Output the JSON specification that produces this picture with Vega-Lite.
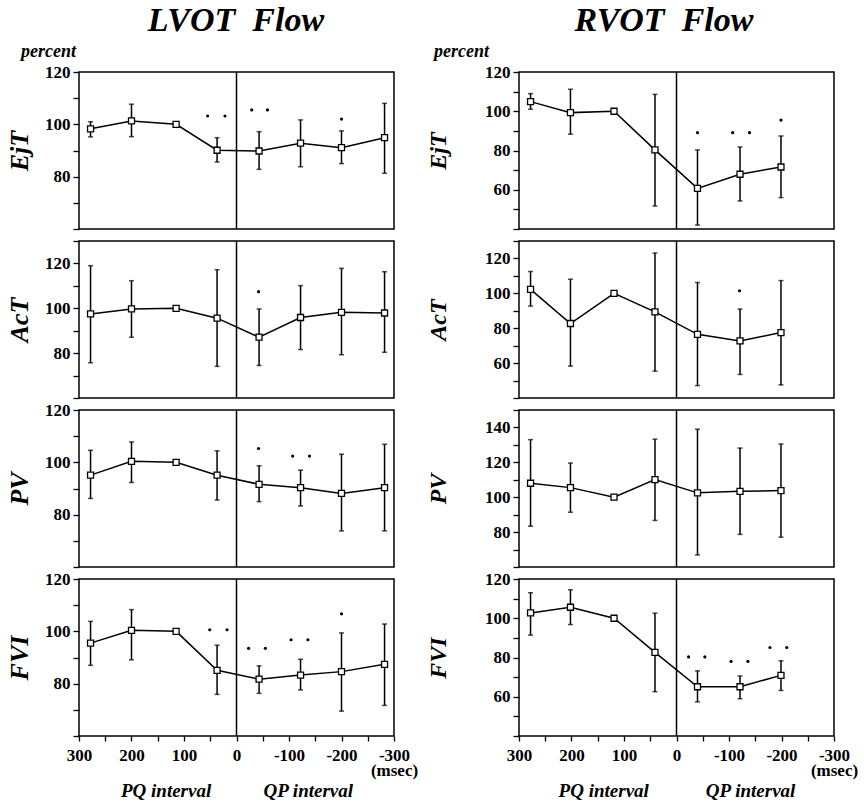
{
  "$schema": "https://vega.github.io/schema/vega-lite/v6.json",
  "padding": {"left": 5, "top": 4, "right": 5, "bottom": 5},
  "spacing": 6,
  "config": {
    "view": {"stroke": "black", "strokeWidth": 1.5},
    "axis": {"domain": false, "grid": false, "tickColor": "black", "tickSize": 6, "tickWidth": 1.3, "tickCount": 30, "labelFont": "Liberation Serif", "labelFontWeight": "bold", "labelFontSize": 17, "labelColor": "black", "labelPadding": 3, "labelOverlap": false, "titleFont": "Liberation Serif", "titleFontStyle": "italic", "titleFontWeight": "bold", "titleColor": "black"},
    "axisY": {"titleFontSize": 26, "titlePadding": 12, "labelOverlap": false},
    "axisX": {"titleFontSize": 19, "titlePadding": 3, "labelOverlap": false, "labelFlush": false, "labelPadding": 6, "labelLineHeight": 15, "tickSize": 5},
    "title": {"font": "Liberation Serif", "fontStyle": "italic", "fontWeight": "bold", "color": "black"}
  },
  "datasets": {
    "main": [
      {"c":"L","p":"EjT","x":278,"y":98.3,"lo":95.2,"hi":101},
      {"c":"L","p":"EjT","x":200,"y":101.3,"lo":95.3,"hi":107.7},
      {"c":"L","p":"EjT","x":115,"y":100,"lo":null,"hi":null},
      {"c":"L","p":"EjT","x":37,"y":90.1,"lo":85.6,"hi":94.9},
      {"c":"L","p":"EjT","x":-43,"y":89.8,"lo":82.8,"hi":97.2},
      {"c":"L","p":"EjT","x":-122,"y":92.8,"lo":83.8,"hi":101.7},
      {"c":"L","p":"EjT","x":-200,"y":91.1,"lo":85,"hi":97.5},
      {"c":"L","p":"EjT","x":-282,"y":94.9,"lo":81.3,"hi":108},
      {"c":"L","p":"AcT","x":278,"y":97.5,"lo":75.7,"hi":119},
      {"c":"L","p":"AcT","x":200,"y":99.7,"lo":87.1,"hi":112.3},
      {"c":"L","p":"AcT","x":115,"y":100,"lo":null,"hi":null},
      {"c":"L","p":"AcT","x":37,"y":95.6,"lo":74.1,"hi":117.2},
      {"c":"L","p":"AcT","x":-43,"y":87.1,"lo":74.5,"hi":99.7},
      {"c":"L","p":"AcT","x":-122,"y":95.9,"lo":81.6,"hi":110.1},
      {"c":"L","p":"AcT","x":-200,"y":98.2,"lo":79.3,"hi":117.8},
      {"c":"L","p":"AcT","x":-282,"y":97.9,"lo":80.4,"hi":116.3},
      {"c":"L","p":"PV","x":278,"y":95.1,"lo":86.2,"hi":104.6},
      {"c":"L","p":"PV","x":200,"y":100.4,"lo":92.3,"hi":107.8},
      {"c":"L","p":"PV","x":115,"y":100,"lo":null,"hi":null},
      {"c":"L","p":"PV","x":37,"y":95.1,"lo":85.6,"hi":104.4},
      {"c":"L","p":"PV","x":-43,"y":91.6,"lo":85,"hi":98.7},
      {"c":"L","p":"PV","x":-122,"y":90.3,"lo":83.3,"hi":97},
      {"c":"L","p":"PV","x":-200,"y":88.1,"lo":73.8,"hi":103.1},
      {"c":"L","p":"PV","x":-282,"y":90.3,"lo":73.8,"hi":106.9},
      {"c":"L","p":"FVI","x":278,"y":95.5,"lo":87,"hi":103.8},
      {"c":"L","p":"FVI","x":200,"y":100.4,"lo":89.1,"hi":108.3},
      {"c":"L","p":"FVI","x":115,"y":100,"lo":null,"hi":null},
      {"c":"L","p":"FVI","x":37,"y":85.1,"lo":75.9,"hi":94.7},
      {"c":"L","p":"FVI","x":-43,"y":81.7,"lo":76.3,"hi":86.8},
      {"c":"L","p":"FVI","x":-122,"y":83.3,"lo":77.6,"hi":89.3},
      {"c":"L","p":"FVI","x":-200,"y":84.6,"lo":69.5,"hi":99.4},
      {"c":"L","p":"FVI","x":-282,"y":87.4,"lo":71.7,"hi":102.8},
      {"c":"R","p":"EjT","x":278,"y":104.9,"lo":101,"hi":109},
      {"c":"R","p":"EjT","x":202,"y":99.3,"lo":88.3,"hi":111.2},
      {"c":"R","p":"EjT","x":119,"y":100,"lo":null,"hi":null},
      {"c":"R","p":"EjT","x":41,"y":80.3,"lo":51.7,"hi":108.6},
      {"c":"R","p":"EjT","x":-40,"y":60.7,"lo":42,"hi":80.3},
      {"c":"R","p":"EjT","x":-121,"y":67.9,"lo":54.3,"hi":81.8},
      {"c":"R","p":"EjT","x":-199,"y":71.6,"lo":56,"hi":87.4},
      {"c":"R","p":"AcT","x":278,"y":102.3,"lo":92.7,"hi":112.5},
      {"c":"R","p":"AcT","x":202,"y":82.7,"lo":58.3,"hi":108.1},
      {"c":"R","p":"AcT","x":119,"y":100,"lo":null,"hi":null},
      {"c":"R","p":"AcT","x":41,"y":89.4,"lo":55.4,"hi":123.1},
      {"c":"R","p":"AcT","x":-40,"y":76.5,"lo":47.1,"hi":106.2},
      {"c":"R","p":"AcT","x":-121,"y":72.7,"lo":53.5,"hi":91},
      {"c":"R","p":"AcT","x":-199,"y":77.5,"lo":47.5,"hi":107.3},
      {"c":"R","p":"PV","x":278,"y":108,"lo":83.4,"hi":133},
      {"c":"R","p":"PV","x":202,"y":105.5,"lo":91.4,"hi":119.6},
      {"c":"R","p":"PV","x":119,"y":100,"lo":null,"hi":null},
      {"c":"R","p":"PV","x":41,"y":110.1,"lo":86.7,"hi":133.3},
      {"c":"R","p":"PV","x":-40,"y":102.5,"lo":66.9,"hi":139},
      {"c":"R","p":"PV","x":-121,"y":103.4,"lo":78.7,"hi":128.2},
      {"c":"R","p":"PV","x":-199,"y":103.8,"lo":77.1,"hi":130.5},
      {"c":"R","p":"FVI","x":278,"y":102.7,"lo":91.4,"hi":113},
      {"c":"R","p":"FVI","x":202,"y":105.6,"lo":96.8,"hi":114.5},
      {"c":"R","p":"FVI","x":119,"y":100,"lo":null,"hi":null},
      {"c":"R","p":"FVI","x":41,"y":82.6,"lo":62.6,"hi":102.6},
      {"c":"R","p":"FVI","x":-40,"y":65.1,"lo":57.4,"hi":73.2},
      {"c":"R","p":"FVI","x":-121,"y":65.1,"lo":59,"hi":70.6},
      {"c":"R","p":"FVI","x":-199,"y":70.9,"lo":63.2,"hi":78.3}
    ],
    "stars": [
      {"c":"L","p":"EjT","x":55,"y":103.2},
      {"c":"L","p":"EjT","x":22,"y":103.2},
      {"c":"L","p":"EjT","x":-29,"y":105.5},
      {"c":"L","p":"EjT","x":-59,"y":105.5},
      {"c":"L","p":"EjT","x":-200,"y":102},
      {"c":"L","p":"AcT","x":-42,"y":107.4},
      {"c":"L","p":"PV","x":-42,"y":105.3},
      {"c":"L","p":"PV","x":-107,"y":102.4},
      {"c":"L","p":"PV","x":-139,"y":102.4},
      {"c":"L","p":"FVI","x":51,"y":100.6},
      {"c":"L","p":"FVI","x":18,"y":100.6},
      {"c":"L","p":"FVI","x":-23,"y":93.5},
      {"c":"L","p":"FVI","x":-55,"y":93.5},
      {"c":"L","p":"FVI","x":-104,"y":96.8},
      {"c":"L","p":"FVI","x":-136,"y":96.8},
      {"c":"L","p":"FVI","x":-200,"y":106.7},
      {"c":"R","p":"EjT","x":-40,"y":89.1},
      {"c":"R","p":"EjT","x":-107,"y":89.1},
      {"c":"R","p":"EjT","x":-139,"y":89.1},
      {"c":"R","p":"EjT","x":-199,"y":95.5},
      {"c":"R","p":"AcT","x":-120,"y":101.5},
      {"c":"R","p":"FVI","x":-23,"y":80.3},
      {"c":"R","p":"FVI","x":-54,"y":80.3},
      {"c":"R","p":"FVI","x":-104,"y":78},
      {"c":"R","p":"FVI","x":-136,"y":78},
      {"c":"R","p":"FVI","x":-178,"y":85.1},
      {"c":"R","p":"FVI","x":-210,"y":85.1}
    ]
  },
  "hconcat": [
    {
      "bounds": "flush",
      "spacing": 12,
      "title": {"text": "LVOT\u00a0\u00a0Flow", "fontSize": 34, "anchor": "middle", "frame": "group", "offset": 4, "dx": 157},
      "vconcat": [
        {
          "width": 315, "height": 157,
          "title": {"text": "percent", "fontSize": 18, "anchor": "start", "frame": "group", "dx": -58, "offset": 2},
          "layer": [
            {"data": {"name": "main"}, "transform": [{"filter": "datum.c=='L' && datum.p=='EjT'"}],
             "mark": {"type": "line", "color": "black", "strokeWidth": 1.5},
             "encoding": {
               "x": {"field": "x", "type": "quantitative", "scale": {"domain": [-300,300], "reverse": true, "nice": false, "zero": false}, "axis": null},
               "y": {"field": "y", "type": "quantitative", "title": "EjT", "scale": {"domain": [60,120], "nice": false, "zero": false},
                     "axis": {"title": "EjT", "tickCount": 30, "labelOverlap": false, "values": [60,70,80,90,100,110,120], "labelFontSize": {"condition": {"test": "datum.value % 20 != 0 || datum.value <= 60", "value": 0}, "value": 17}, "labelExpr": "datum.value % 20 == 0 && datum.value > 60 ? datum.label : ''"}}}},
            {"data": {"name": "main"}, "transform": [{"filter": "datum.c=='L' && datum.p=='EjT' && datum.lo != null"}],
             "mark": {"type": "errorbar", "ticks": true, "color": "black", "thickness": 1.5},
             "encoding": {
               "x": {"field": "x", "type": "quantitative", "scale": {"domain": [-300,300], "reverse": true, "nice": false, "zero": false}, "axis": null},
               "y": {"field": "lo", "type": "quantitative", "title": "EjT", "scale": {"domain": [60,120], "nice": false, "zero": false}},
               "y2": {"field": "hi"}}},
            {"data": {"name": "main"}, "transform": [{"filter": "datum.c=='L' && datum.p=='EjT'"}],
             "mark": {"type": "point", "shape": "square", "filled": true, "fill": "white", "stroke": "black", "strokeWidth": 1.3, "size": 36, "opacity": 1},
             "encoding": {
               "x": {"field": "x", "type": "quantitative", "scale": {"domain": [-300,300], "reverse": true, "nice": false, "zero": false}, "axis": null},
               "y": {"field": "y", "type": "quantitative", "title": "EjT", "scale": {"domain": [60,120], "nice": false, "zero": false}}}},
            {"data": {"name": "stars"}, "transform": [{"filter": "datum.c=='L' && datum.p=='EjT'"}],
             "mark": {"type": "circle", "color": "black", "size": 10, "opacity": 1},
             "encoding": {
               "x": {"field": "x", "type": "quantitative", "scale": {"domain": [-300,300], "reverse": true, "nice": false, "zero": false}, "axis": null},
               "y": {"field": "y", "type": "quantitative", "title": "EjT", "scale": {"domain": [60,120], "nice": false, "zero": false}}}},
            {"data": {"values": [{}]}, "mark": {"type": "rule", "color": "black", "strokeWidth": 1.5},
             "encoding": {"x": {"datum": 0, "type": "quantitative", "scale": {"domain": [-300,300], "reverse": true, "nice": false, "zero": false}, "axis": null}}}
          ]
        },
        {
          "width": 315, "height": 157,
          "layer": [
            {"data": {"name": "main"}, "transform": [{"filter": "datum.c=='L' && datum.p=='AcT'"}],
             "mark": {"type": "line", "color": "black", "strokeWidth": 1.5},
             "encoding": {
               "x": {"field": "x", "type": "quantitative", "scale": {"domain": [-300,300], "reverse": true, "nice": false, "zero": false}, "axis": null},
               "y": {"field": "y", "type": "quantitative", "title": "AcT", "scale": {"domain": [60,130], "nice": false, "zero": false},
                     "axis": {"title": "AcT", "tickCount": 30, "labelOverlap": false, "values": [60,70,80,90,100,110,120,130], "labelFontSize": {"condition": {"test": "datum.value % 20 != 0 || datum.value <= 60", "value": 0}, "value": 17}, "labelExpr": "datum.value % 20 == 0 && datum.value > 60 ? datum.label : ''"}}}},
            {"data": {"name": "main"}, "transform": [{"filter": "datum.c=='L' && datum.p=='AcT' && datum.lo != null"}],
             "mark": {"type": "errorbar", "ticks": true, "color": "black", "thickness": 1.5},
             "encoding": {
               "x": {"field": "x", "type": "quantitative", "scale": {"domain": [-300,300], "reverse": true, "nice": false, "zero": false}, "axis": null},
               "y": {"field": "lo", "type": "quantitative", "title": "AcT", "scale": {"domain": [60,130], "nice": false, "zero": false}},
               "y2": {"field": "hi"}}},
            {"data": {"name": "main"}, "transform": [{"filter": "datum.c=='L' && datum.p=='AcT'"}],
             "mark": {"type": "point", "shape": "square", "filled": true, "fill": "white", "stroke": "black", "strokeWidth": 1.3, "size": 36, "opacity": 1},
             "encoding": {
               "x": {"field": "x", "type": "quantitative", "scale": {"domain": [-300,300], "reverse": true, "nice": false, "zero": false}, "axis": null},
               "y": {"field": "y", "type": "quantitative", "title": "AcT", "scale": {"domain": [60,130], "nice": false, "zero": false}}}},
            {"data": {"name": "stars"}, "transform": [{"filter": "datum.c=='L' && datum.p=='AcT'"}],
             "mark": {"type": "circle", "color": "black", "size": 10, "opacity": 1},
             "encoding": {
               "x": {"field": "x", "type": "quantitative", "scale": {"domain": [-300,300], "reverse": true, "nice": false, "zero": false}, "axis": null},
               "y": {"field": "y", "type": "quantitative", "title": "AcT", "scale": {"domain": [60,130], "nice": false, "zero": false}}}},
            {"data": {"values": [{}]}, "mark": {"type": "rule", "color": "black", "strokeWidth": 1.5},
             "encoding": {"x": {"datum": 0, "type": "quantitative", "scale": {"domain": [-300,300], "reverse": true, "nice": false, "zero": false}, "axis": null}}}
          ]
        },
        {
          "width": 315, "height": 157,
          "layer": [
            {"data": {"name": "main"}, "transform": [{"filter": "datum.c=='L' && datum.p=='PV'"}],
             "mark": {"type": "line", "color": "black", "strokeWidth": 1.5},
             "encoding": {
               "x": {"field": "x", "type": "quantitative", "scale": {"domain": [-300,300], "reverse": true, "nice": false, "zero": false}, "axis": null},
               "y": {"field": "y", "type": "quantitative", "title": "PV", "scale": {"domain": [60,120], "nice": false, "zero": false},
                     "axis": {"title": "PV", "tickCount": 30, "labelOverlap": false, "values": [60,70,80,90,100,110,120], "labelFontSize": {"condition": {"test": "datum.value % 20 != 0 || datum.value <= 60", "value": 0}, "value": 17}, "labelExpr": "datum.value % 20 == 0 && datum.value > 60 ? datum.label : ''"}}}},
            {"data": {"name": "main"}, "transform": [{"filter": "datum.c=='L' && datum.p=='PV' && datum.lo != null"}],
             "mark": {"type": "errorbar", "ticks": true, "color": "black", "thickness": 1.5},
             "encoding": {
               "x": {"field": "x", "type": "quantitative", "scale": {"domain": [-300,300], "reverse": true, "nice": false, "zero": false}, "axis": null},
               "y": {"field": "lo", "type": "quantitative", "title": "PV", "scale": {"domain": [60,120], "nice": false, "zero": false}},
               "y2": {"field": "hi"}}},
            {"data": {"name": "main"}, "transform": [{"filter": "datum.c=='L' && datum.p=='PV'"}],
             "mark": {"type": "point", "shape": "square", "filled": true, "fill": "white", "stroke": "black", "strokeWidth": 1.3, "size": 36, "opacity": 1},
             "encoding": {
               "x": {"field": "x", "type": "quantitative", "scale": {"domain": [-300,300], "reverse": true, "nice": false, "zero": false}, "axis": null},
               "y": {"field": "y", "type": "quantitative", "title": "PV", "scale": {"domain": [60,120], "nice": false, "zero": false}}}},
            {"data": {"name": "stars"}, "transform": [{"filter": "datum.c=='L' && datum.p=='PV'"}],
             "mark": {"type": "circle", "color": "black", "size": 10, "opacity": 1},
             "encoding": {
               "x": {"field": "x", "type": "quantitative", "scale": {"domain": [-300,300], "reverse": true, "nice": false, "zero": false}, "axis": null},
               "y": {"field": "y", "type": "quantitative", "title": "PV", "scale": {"domain": [60,120], "nice": false, "zero": false}}}},
            {"data": {"values": [{}]}, "mark": {"type": "rule", "color": "black", "strokeWidth": 1.5},
             "encoding": {"x": {"datum": 0, "type": "quantitative", "scale": {"domain": [-300,300], "reverse": true, "nice": false, "zero": false}, "axis": null}}}
          ]
        },
        {
          "width": 315, "height": 157,
          "layer": [
            {"data": {"name": "main"}, "transform": [{"filter": "datum.c=='L' && datum.p=='FVI'"}],
             "mark": {"type": "line", "color": "black", "strokeWidth": 1.5},
             "encoding": {
               "x": {"field": "x", "type": "quantitative", "title": "PQ interval\u00a0\u00a0\u00a0\u00a0\u00a0\u00a0\u00a0\u00a0\u00a0\u00a0\u00a0QP interval", "scale": {"domain": [-300,300], "reverse": true, "nice": false, "zero": false},
                     "axis": {"tickCount": 30, "labelOverlap": false, "values": [300,250,200,150,100,50,0,-50,-100,-150,-200,-250,-300], "labelExpr": "datum.value % 100 != 0 ? '' : (datum.value == -300 ? ['-300', '(msec)'] : '' + datum.value)", "title": "PQ interval\u00a0\u00a0\u00a0\u00a0\u00a0\u00a0\u00a0\u00a0\u00a0\u00a0\u00a0QP interval"}},
               "y": {"field": "y", "type": "quantitative", "title": "FVI", "scale": {"domain": [60,120], "nice": false, "zero": false},
                     "axis": {"title": "FVI", "tickCount": 30, "labelOverlap": false, "values": [60,70,80,90,100,110,120], "labelFontSize": {"condition": {"test": "datum.value % 20 != 0 || datum.value <= 60", "value": 0}, "value": 17}, "labelExpr": "datum.value % 20 == 0 && datum.value > 60 ? datum.label : ''"}}}},
            {"data": {"name": "main"}, "transform": [{"filter": "datum.c=='L' && datum.p=='FVI' && datum.lo != null"}],
             "mark": {"type": "errorbar", "ticks": true, "color": "black", "thickness": 1.5},
             "encoding": {
               "x": {"field": "x", "type": "quantitative", "title": "PQ interval\u00a0\u00a0\u00a0\u00a0\u00a0\u00a0\u00a0\u00a0\u00a0\u00a0\u00a0QP interval", "scale": {"domain": [-300,300], "reverse": true, "nice": false, "zero": false}},
               "y": {"field": "lo", "type": "quantitative", "title": "FVI", "scale": {"domain": [60,120], "nice": false, "zero": false}},
               "y2": {"field": "hi"}}},
            {"data": {"name": "main"}, "transform": [{"filter": "datum.c=='L' && datum.p=='FVI'"}],
             "mark": {"type": "point", "shape": "square", "filled": true, "fill": "white", "stroke": "black", "strokeWidth": 1.3, "size": 36, "opacity": 1},
             "encoding": {
               "x": {"field": "x", "type": "quantitative", "title": "PQ interval\u00a0\u00a0\u00a0\u00a0\u00a0\u00a0\u00a0\u00a0\u00a0\u00a0\u00a0QP interval", "scale": {"domain": [-300,300], "reverse": true, "nice": false, "zero": false}},
               "y": {"field": "y", "type": "quantitative", "title": "FVI", "scale": {"domain": [60,120], "nice": false, "zero": false}}}},
            {"data": {"name": "stars"}, "transform": [{"filter": "datum.c=='L' && datum.p=='FVI'"}],
             "mark": {"type": "circle", "color": "black", "size": 10, "opacity": 1},
             "encoding": {
               "x": {"field": "x", "type": "quantitative", "title": "PQ interval\u00a0\u00a0\u00a0\u00a0\u00a0\u00a0\u00a0\u00a0\u00a0\u00a0\u00a0QP interval", "scale": {"domain": [-300,300], "reverse": true, "nice": false, "zero": false}},
               "y": {"field": "y", "type": "quantitative", "title": "FVI", "scale": {"domain": [60,120], "nice": false, "zero": false}}}},
            {"data": {"values": [{}]}, "mark": {"type": "rule", "color": "black", "strokeWidth": 1.5},
             "encoding": {"x": {"datum": 0, "type": "quantitative", "title": "PQ interval\u00a0\u00a0\u00a0\u00a0\u00a0\u00a0\u00a0\u00a0\u00a0\u00a0\u00a0QP interval", "scale": {"domain": [-300,300], "reverse": true, "nice": false, "zero": false}}}}
          ]
        }
      ]
    },
    {
      "bounds": "flush",
      "spacing": 12,
      "title": {"text": "RVOT\u00a0\u00a0Flow", "fontSize": 34, "anchor": "middle", "frame": "group", "offset": 4, "dx": 145},
      "vconcat": [
        {
          "width": 315, "height": 157,
          "title": {"text": "percent", "fontSize": 18, "anchor": "start", "frame": "group", "dx": -85, "offset": 2},
          "layer": [
            {"data": {"name": "main"}, "transform": [{"filter": "datum.c=='R' && datum.p=='EjT'"}],
             "mark": {"type": "line", "color": "black", "strokeWidth": 1.5},
             "encoding": {
               "x": {"field": "x", "type": "quantitative", "scale": {"domain": [-300,300], "reverse": true, "nice": false, "zero": false}, "axis": null},
               "y": {"field": "y", "type": "quantitative", "title": "EjT", "scale": {"domain": [40,120], "nice": false, "zero": false},
                     "axis": {"title": "EjT", "tickCount": 30, "labelOverlap": false, "titleFontSize": 24, "titlePadding": 34, "values": [40,50,60,70,80,90,100,110,120], "labelFontSize": {"condition": {"test": "datum.value % 20 != 0 || datum.value <= 40", "value": 0}, "value": 17}, "labelExpr": "datum.value % 20 == 0 && datum.value > 40 ? datum.label : ''"}}}},
            {"data": {"name": "main"}, "transform": [{"filter": "datum.c=='R' && datum.p=='EjT' && datum.lo != null"}],
             "mark": {"type": "errorbar", "ticks": true, "color": "black", "thickness": 1.5},
             "encoding": {
               "x": {"field": "x", "type": "quantitative", "scale": {"domain": [-300,300], "reverse": true, "nice": false, "zero": false}, "axis": null},
               "y": {"field": "lo", "type": "quantitative", "title": "EjT", "scale": {"domain": [40,120], "nice": false, "zero": false}},
               "y2": {"field": "hi"}}},
            {"data": {"name": "main"}, "transform": [{"filter": "datum.c=='R' && datum.p=='EjT'"}],
             "mark": {"type": "point", "shape": "square", "filled": true, "fill": "white", "stroke": "black", "strokeWidth": 1.3, "size": 36, "opacity": 1},
             "encoding": {
               "x": {"field": "x", "type": "quantitative", "scale": {"domain": [-300,300], "reverse": true, "nice": false, "zero": false}, "axis": null},
               "y": {"field": "y", "type": "quantitative", "title": "EjT", "scale": {"domain": [40,120], "nice": false, "zero": false}}}},
            {"data": {"name": "stars"}, "transform": [{"filter": "datum.c=='R' && datum.p=='EjT'"}],
             "mark": {"type": "circle", "color": "black", "size": 10, "opacity": 1},
             "encoding": {
               "x": {"field": "x", "type": "quantitative", "scale": {"domain": [-300,300], "reverse": true, "nice": false, "zero": false}, "axis": null},
               "y": {"field": "y", "type": "quantitative", "title": "EjT", "scale": {"domain": [40,120], "nice": false, "zero": false}}}},
            {"data": {"values": [{}]}, "mark": {"type": "rule", "color": "black", "strokeWidth": 1.5},
             "encoding": {"x": {"datum": 0, "type": "quantitative", "scale": {"domain": [-300,300], "reverse": true, "nice": false, "zero": false}, "axis": null}}}
          ]
        },
        {
          "width": 315, "height": 157,
          "layer": [
            {"data": {"name": "main"}, "transform": [{"filter": "datum.c=='R' && datum.p=='AcT'"}],
             "mark": {"type": "line", "color": "black", "strokeWidth": 1.5},
             "encoding": {
               "x": {"field": "x", "type": "quantitative", "scale": {"domain": [-300,300], "reverse": true, "nice": false, "zero": false}, "axis": null},
               "y": {"field": "y", "type": "quantitative", "title": "AcT", "scale": {"domain": [40,130], "nice": false, "zero": false},
                     "axis": {"title": "AcT", "tickCount": 30, "labelOverlap": false, "titleFontSize": 24, "titlePadding": 34, "values": [40,50,60,70,80,90,100,110,120,130], "labelFontSize": {"condition": {"test": "datum.value % 20 != 0 || datum.value <= 40", "value": 0}, "value": 17}, "labelExpr": "datum.value % 20 == 0 && datum.value > 40 ? datum.label : ''"}}}},
            {"data": {"name": "main"}, "transform": [{"filter": "datum.c=='R' && datum.p=='AcT' && datum.lo != null"}],
             "mark": {"type": "errorbar", "ticks": true, "color": "black", "thickness": 1.5},
             "encoding": {
               "x": {"field": "x", "type": "quantitative", "scale": {"domain": [-300,300], "reverse": true, "nice": false, "zero": false}, "axis": null},
               "y": {"field": "lo", "type": "quantitative", "title": "AcT", "scale": {"domain": [40,130], "nice": false, "zero": false}},
               "y2": {"field": "hi"}}},
            {"data": {"name": "main"}, "transform": [{"filter": "datum.c=='R' && datum.p=='AcT'"}],
             "mark": {"type": "point", "shape": "square", "filled": true, "fill": "white", "stroke": "black", "strokeWidth": 1.3, "size": 36, "opacity": 1},
             "encoding": {
               "x": {"field": "x", "type": "quantitative", "scale": {"domain": [-300,300], "reverse": true, "nice": false, "zero": false}, "axis": null},
               "y": {"field": "y", "type": "quantitative", "title": "AcT", "scale": {"domain": [40,130], "nice": false, "zero": false}}}},
            {"data": {"name": "stars"}, "transform": [{"filter": "datum.c=='R' && datum.p=='AcT'"}],
             "mark": {"type": "circle", "color": "black", "size": 10, "opacity": 1},
             "encoding": {
               "x": {"field": "x", "type": "quantitative", "scale": {"domain": [-300,300], "reverse": true, "nice": false, "zero": false}, "axis": null},
               "y": {"field": "y", "type": "quantitative", "title": "AcT", "scale": {"domain": [40,130], "nice": false, "zero": false}}}},
            {"data": {"values": [{}]}, "mark": {"type": "rule", "color": "black", "strokeWidth": 1.5},
             "encoding": {"x": {"datum": 0, "type": "quantitative", "scale": {"domain": [-300,300], "reverse": true, "nice": false, "zero": false}, "axis": null}}}
          ]
        },
        {
          "width": 315, "height": 157,
          "layer": [
            {"data": {"name": "main"}, "transform": [{"filter": "datum.c=='R' && datum.p=='PV'"}],
             "mark": {"type": "line", "color": "black", "strokeWidth": 1.5},
             "encoding": {
               "x": {"field": "x", "type": "quantitative", "scale": {"domain": [-300,300], "reverse": true, "nice": false, "zero": false}, "axis": null},
               "y": {"field": "y", "type": "quantitative", "title": "PV", "scale": {"domain": [60,150], "nice": false, "zero": false},
                     "axis": {"title": "PV", "tickCount": 30, "labelOverlap": false, "titleFontSize": 24, "titlePadding": 34, "values": [60,70,80,90,100,110,120,130,140,150], "labelFontSize": {"condition": {"test": "datum.value % 20 != 0 || datum.value <= 60", "value": 0}, "value": 17}, "labelExpr": "datum.value % 20 == 0 && datum.value > 60 ? datum.label : ''"}}}},
            {"data": {"name": "main"}, "transform": [{"filter": "datum.c=='R' && datum.p=='PV' && datum.lo != null"}],
             "mark": {"type": "errorbar", "ticks": true, "color": "black", "thickness": 1.5},
             "encoding": {
               "x": {"field": "x", "type": "quantitative", "scale": {"domain": [-300,300], "reverse": true, "nice": false, "zero": false}, "axis": null},
               "y": {"field": "lo", "type": "quantitative", "title": "PV", "scale": {"domain": [60,150], "nice": false, "zero": false}},
               "y2": {"field": "hi"}}},
            {"data": {"name": "main"}, "transform": [{"filter": "datum.c=='R' && datum.p=='PV'"}],
             "mark": {"type": "point", "shape": "square", "filled": true, "fill": "white", "stroke": "black", "strokeWidth": 1.3, "size": 36, "opacity": 1},
             "encoding": {
               "x": {"field": "x", "type": "quantitative", "scale": {"domain": [-300,300], "reverse": true, "nice": false, "zero": false}, "axis": null},
               "y": {"field": "y", "type": "quantitative", "title": "PV", "scale": {"domain": [60,150], "nice": false, "zero": false}}}},
            {"data": {"values": [{}]}, "mark": {"type": "rule", "color": "black", "strokeWidth": 1.5},
             "encoding": {"x": {"datum": 0, "type": "quantitative", "scale": {"domain": [-300,300], "reverse": true, "nice": false, "zero": false}, "axis": null}}}
          ]
        },
        {
          "width": 315, "height": 157,
          "layer": [
            {"data": {"name": "main"}, "transform": [{"filter": "datum.c=='R' && datum.p=='FVI'"}],
             "mark": {"type": "line", "color": "black", "strokeWidth": 1.5},
             "encoding": {
               "x": {"field": "x", "type": "quantitative", "title": "PQ interval\u00a0\u00a0\u00a0\u00a0\u00a0\u00a0\u00a0\u00a0\u00a0\u00a0\u00a0\u00a0QP interval", "scale": {"domain": [-300,300], "reverse": true, "nice": false, "zero": false},
                     "axis": {"tickCount": 30, "labelOverlap": false, "values": [300,250,200,150,100,50,0,-50,-100,-150,-200,-250,-300], "labelExpr": "datum.value % 100 != 0 ? '' : (datum.value == -300 ? ['-300', '(msec)'] : '' + datum.value)", "title": "PQ interval\u00a0\u00a0\u00a0\u00a0\u00a0\u00a0\u00a0\u00a0\u00a0\u00a0\u00a0\u00a0QP interval"}},
               "y": {"field": "y", "type": "quantitative", "title": "FVI", "scale": {"domain": [40,120], "nice": false, "zero": false},
                     "axis": {"title": "FVI", "tickCount": 30, "labelOverlap": false, "titleFontSize": 24, "titlePadding": 34, "values": [40,50,60,70,80,90,100,110,120], "labelFontSize": {"condition": {"test": "datum.value % 20 != 0 || datum.value <= 40", "value": 0}, "value": 17}, "labelExpr": "datum.value % 20 == 0 && datum.value > 40 ? datum.label : ''"}}}},
            {"data": {"name": "main"}, "transform": [{"filter": "datum.c=='R' && datum.p=='FVI' && datum.lo != null"}],
             "mark": {"type": "errorbar", "ticks": true, "color": "black", "thickness": 1.5},
             "encoding": {
               "x": {"field": "x", "type": "quantitative", "title": "PQ interval\u00a0\u00a0\u00a0\u00a0\u00a0\u00a0\u00a0\u00a0\u00a0\u00a0\u00a0\u00a0QP interval", "scale": {"domain": [-300,300], "reverse": true, "nice": false, "zero": false}},
               "y": {"field": "lo", "type": "quantitative", "title": "FVI", "scale": {"domain": [40,120], "nice": false, "zero": false}},
               "y2": {"field": "hi"}}},
            {"data": {"name": "main"}, "transform": [{"filter": "datum.c=='R' && datum.p=='FVI'"}],
             "mark": {"type": "point", "shape": "square", "filled": true, "fill": "white", "stroke": "black", "strokeWidth": 1.3, "size": 36, "opacity": 1},
             "encoding": {
               "x": {"field": "x", "type": "quantitative", "title": "PQ interval\u00a0\u00a0\u00a0\u00a0\u00a0\u00a0\u00a0\u00a0\u00a0\u00a0\u00a0\u00a0QP interval", "scale": {"domain": [-300,300], "reverse": true, "nice": false, "zero": false}},
               "y": {"field": "y", "type": "quantitative", "title": "FVI", "scale": {"domain": [40,120], "nice": false, "zero": false}}}},
            {"data": {"name": "stars"}, "transform": [{"filter": "datum.c=='R' && datum.p=='FVI'"}],
             "mark": {"type": "circle", "color": "black", "size": 10, "opacity": 1},
             "encoding": {
               "x": {"field": "x", "type": "quantitative", "title": "PQ interval\u00a0\u00a0\u00a0\u00a0\u00a0\u00a0\u00a0\u00a0\u00a0\u00a0\u00a0\u00a0QP interval", "scale": {"domain": [-300,300], "reverse": true, "nice": false, "zero": false}},
               "y": {"field": "y", "type": "quantitative", "title": "FVI", "scale": {"domain": [40,120], "nice": false, "zero": false}}}},
            {"data": {"values": [{}]}, "mark": {"type": "rule", "color": "black", "strokeWidth": 1.5},
             "encoding": {"x": {"datum": 0, "type": "quantitative", "title": "PQ interval\u00a0\u00a0\u00a0\u00a0\u00a0\u00a0\u00a0\u00a0\u00a0\u00a0\u00a0\u00a0QP interval", "scale": {"domain": [-300,300], "reverse": true, "nice": false, "zero": false}}}}
          ]
        }
      ]
    }
  ]
}
